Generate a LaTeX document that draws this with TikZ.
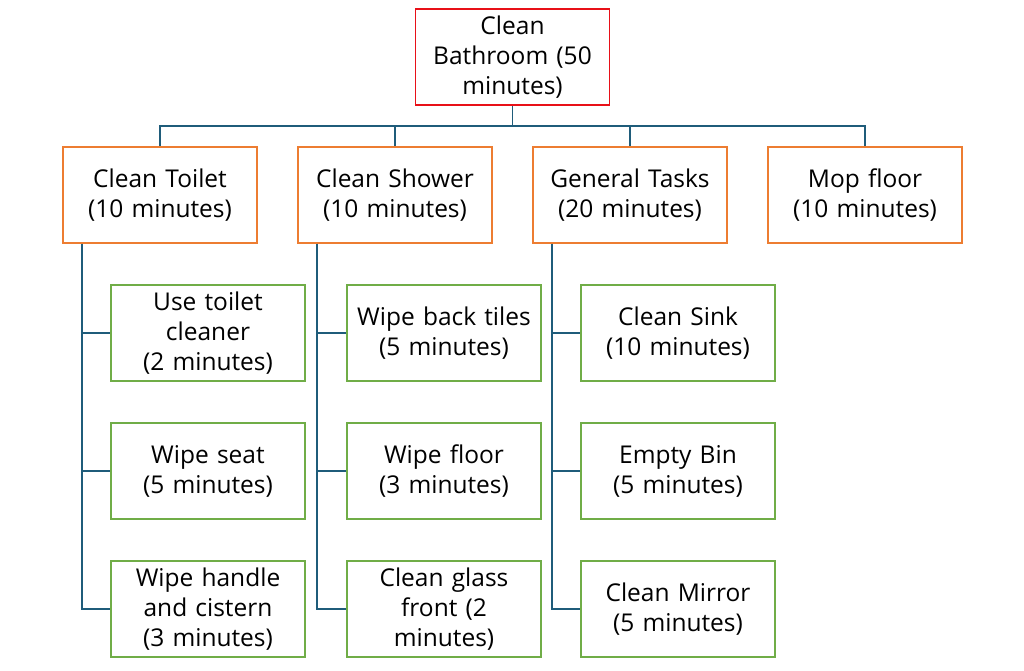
\documentclass[tikz,border=0pt]{standalone}
\usepackage{fontspec}
\setmainfont{Open Sans}
\begin{document}
\begin{tikzpicture}[x=1pt,y=-1pt,
  box/.style={draw,line width=1.6pt,fill=white,minimum width=194pt,minimum height=96pt,text width=192pt,align=center,inner sep=0pt,font=\fontsize{24.5}{30}\selectfont},
  rootbox/.style={box,draw=rootred},
  midbox/.style={box,draw=midorange},
  leafbox/.style={box,draw=leafgreen},
  conn/.style={draw=connblue,line width=1.6pt}]
\definecolor{rootred}{RGB}{232,16,24}
\definecolor{midorange}{RGB}{237,125,49}
\definecolor{leafgreen}{RGB}{112,173,71}
\definecolor{connblue}{RGB}{31,92,122}
\useasboundingbox (0,0) rectangle (1024,671);
\node[rootbox] (root) at (512.5,57) {Clean\\Bathroom (50\\minutes)};
\node[midbox] (t) at (160,195) {Clean Toilet\\(10 minutes)};
\node[midbox] (s) at (395,195) {Clean Shower\\(10 minutes)};
\node[midbox] (g) at (630,195) {General Tasks\\(20 minutes)};
\node[midbox] (m) at (865,195) {Mop floor\\(10 minutes)};
\node[leafbox] (t1) at (208,333) {Use toilet\\cleaner\\(2 minutes)};
\node[leafbox] (t2) at (208,471) {Wipe seat\\(5 minutes)};
\node[leafbox] (t3) at (208,609) {Wipe handle\\and cistern\\(3 minutes)};
\node[leafbox] (s1) at (444,333) {Wipe back tiles\\(5 minutes)};
\node[leafbox] (s2) at (444,471) {Wipe floor\\(3 minutes)};
\node[leafbox] (s3) at (444,609) {Clean glass\\front (2\\minutes)};
\node[leafbox] (g1) at (678,333) {Clean Sink\\(10 minutes)};
\node[leafbox] (g2) at (678,471) {Empty Bin\\(5 minutes)};
\node[leafbox] (g3) at (678,609) {Clean Mirror\\(5 minutes)};
\coordinate (bar) at (512.5,126);
\path[conn] (root.south) -- (bar);
\foreach \n in {t,s,g,m} \path[conn] (bar) -| (\n.north);
\foreach \p/\c in {t/t1,t/t2,t/t3,s/s1,s/s2,s/s3,g/g1,g/g2,g/g3}
  \path[conn] (\p.south west) ++(20,0) |- (\c.west);
\end{tikzpicture}
\end{document}
